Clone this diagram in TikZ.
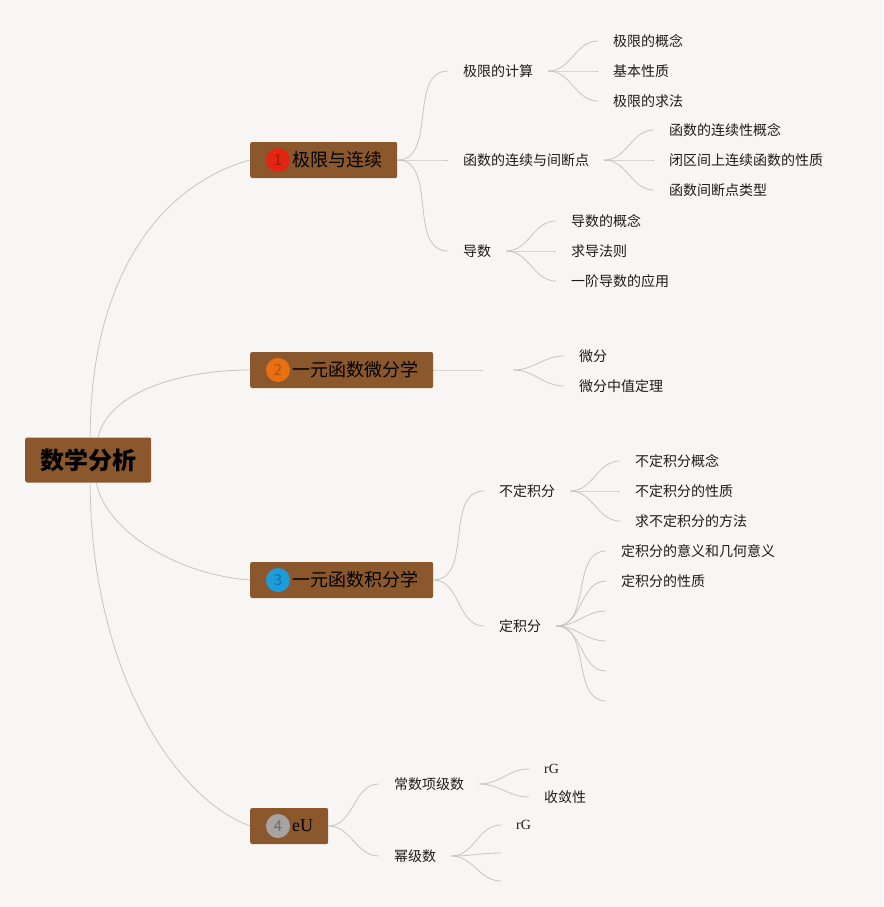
\documentclass[tikz,border=0pt]{standalone}
\usepackage{fontspec}
\setmainfont{Noto Sans CJK SC}
\newfontfamily\latinserif{Liberation Serif}
\usepackage{tikz}
\usetikzlibrary{positioning}
\definecolor{pagebg}{RGB}{247,246,244}
\definecolor{topicbrown}{RGB}{139,88,46}
\definecolor{linkgray}{RGB}{200,196,192}
\definecolor{inkdark}{RGB}{28,28,28}
\definecolor{badgered}{RGB}{226,36,16}
\definecolor{badgereddk}{RGB}{160,24,10}
\definecolor{badgeorange}{RGB}{232,112,18}
\definecolor{badgeorangedk}{RGB}{178,82,12}
\definecolor{badgeblue}{RGB}{30,155,218}
\definecolor{badgebluedk}{RGB}{20,112,165}
\definecolor{badgegray}{RGB}{166,164,162}
\definecolor{badgegraydk}{RGB}{128,104,88}

\begin{document}
\begin{tikzpicture}[
  x=1pt, y=-1pt,
  root/.style={fill=topicbrown, rounded corners=2pt, anchor=west, minimum height=45pt,
               inner xsep=15pt, text=black, font=\fontsize{24}{28}\selectfont\bfseries},
  branch/.style={fill=topicbrown, rounded corners=2pt, anchor=west, minimum height=36pt,
                 inner xsep=15pt, text=black, font=\fontsize{18}{22}\selectfont},
  badge/.style={circle, fill=#1, inner sep=0pt, minimum size=24pt,
                font=\fontsize{15}{18}\selectfont},
  topic/.style={anchor=west, inner xsep=15pt, inner ysep=2pt, text=inkdark,
                font=\fontsize{14}{17}\selectfont},
  serif/.style={topic, font=\fontsize{14}{17}\selectfont\latinserif},
  link/.style={draw=linkgray, line width=0.8pt}
]
\fill[pagebg] (0,0) rectangle (883,907);
\useasboundingbox (0,0) rectangle (883,907);

% root and main branches
\node[root] (root) at (25,460) {数学分析};
\node[branch] (b1) at (250,160) {\hspace{27pt}极限与连续};
\node[branch] (b2) at (250,370) {\hspace{27pt}一元函数微分学};
\node[branch] (b3) at (250,580) {\hspace{27pt}一元函数积分学};
\node[branch] (b4) at (250,826) {\hspace{27pt}{\latinserif eU}};
\node[badge=badgered, text=badgereddk] (n1) at ([xshift=28pt]b1.west) {1};
\node[badge=badgeorange, text=badgeorangedk] (n2) at ([xshift=28pt]b2.west) {2};
\node[badge=badgeblue, text=badgebluedk] (n3) at ([xshift=28pt]b3.west) {3};
\node[badge=badgegray, text=badgegraydk] (n4) at ([xshift=28pt]b4.west) {4};

% second level
\node[topic] (lim) at (448,71) {极限的计算};
\node[topic] (cont) at (448,160) {函数的连续与间断点};
\node[topic] (deriv) at (448,251) {导数};
\node[topic] (diff) at (483,370) {};
\node[topic] (indef) at (484,491) {不定积分};
\node[topic] (defint) at (484,626) {定积分};
\node[topic] (numser) at (379,784) {常数项级数};
\node[topic] (powser) at (379,856) {幂级数};

% third level
\node[topic] (lim1) at (598,41) {极限的概念};
\node[topic] (lim2) at (598,71) {基本性质};
\node[topic] (lim3) at (598,101) {极限的求法};
\node[topic] (cont1) at (654,130) {函数的连续性概念};
\node[topic] (cont2) at (654,160) {闭区间上连续函数的性质};
\node[topic] (cont3) at (654,190) {函数间断点类型};
\node[topic] (deriv1) at (556,221) {导数的概念};
\node[topic] (deriv2) at (556,251) {求导法则};
\node[topic] (deriv3) at (556,281) {一阶导数的应用};
\node[topic] (diff1) at (564,356) {微分};
\node[topic] (diff2) at (564,386) {微分中值定理};
\node[topic] (indef1) at (620,461) {不定积分概念};
\node[topic] (indef2) at (620,491) {不定积分的性质};
\node[topic] (indef3) at (620,521) {求不定积分的方法};
\node[topic] (defint1) at (606,551) {定积分的意义和几何意义};
\node[topic] (defint2) at (606,581) {定积分的性质};
\node[topic] (defint3) at (606,611) {};
\node[topic] (defint4) at (606,641) {};
\node[topic] (defint5) at (606,671) {};
\node[topic] (defint6) at (606,701) {};
\node[serif] (numser1) at (529,769) {rG};
\node[topic] (numser2) at (529,797) {收敛性};
\node[serif] (powser1) at (501,825) {rG};
\node[topic] (powser2) at (501,853) {};
\node[topic] (powser3) at (501,881) {};

% root links
\draw[link] ([xshift=2pt]root.north) .. controls +(0,-160) and +(-90,25) .. (b1.west);
\draw[link] ([xshift=10pt]root.north) .. controls +(10,-45) and +(-70,0) .. (b2.west);
\draw[link] ([xshift=8pt]root.south) .. controls +(10,50) and +(-70,-5) .. (b3.west);
\draw[link] ([xshift=2pt]root.south) .. controls +(0,180) and +(-80,-30) .. (b4.west);

% branch links
\foreach \a/\b in {b1/lim, b1/cont, b1/deriv, b2/diff, b3/indef, b3/defint, b4/numser, b4/powser,
                   lim/lim1, lim/lim2, lim/lim3, cont/cont1, cont/cont2, cont/cont3,
                   deriv/deriv1, deriv/deriv2, deriv/deriv3, diff/diff1, diff/diff2,
                   indef/indef1, indef/indef2, indef/indef3,
                   defint/defint1, defint/defint2, defint/defint3, defint/defint4, defint/defint5, defint/defint6,
                   numser/numser1, numser/numser2, powser/powser1, powser/powser2, powser/powser3}
  \draw[link] (\a.east) to[out=0,in=180] (\b.west);
\end{tikzpicture}
\end{document}
